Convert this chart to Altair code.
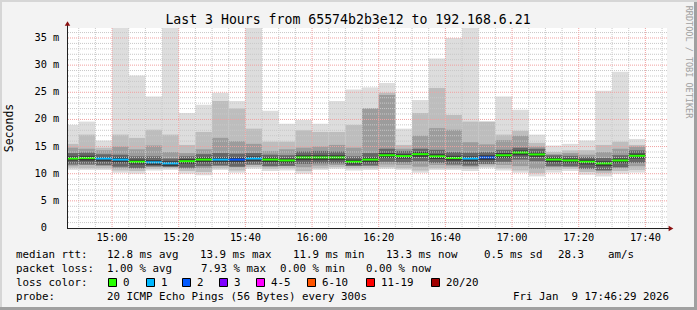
import altair as alt
import pandas as pd

# ---------------- data ----------------
bin_end = ["14:50", "14:55", "15:00", "15:05", "15:10", "15:15", "15:20", "15:25", "15:30",
           "15:35", "15:40", "15:45", "15:50", "15:55", "16:00", "16:05", "16:10", "16:15",
           "16:20", "16:25", "16:30", "16:35", "16:40", "16:45", "16:50", "16:55", "17:00",
           "17:05", "17:10", "17:15", "17:20", "17:25", "17:30", "17:35", "17:40"]
median = [12.8, 12.9, 12.8, 12.6, 12.2, 12.1, 11.9, 12.3, 12.6, 12.6, 12.6, 12.8, 12.6, 12.45,
          13.0, 13.0, 13.0, 12.2, 12.6, 13.4, 13.25, 13.6, 13.2, 12.9, 12.8, 13.0, 13.4, 13.9,
          13.55, 12.6, 12.45, 12.2, 11.9, 12.45, 13.3]
loss = [0, 0, 1, 1, 0, 1, 1, 0, 0, 1, 2, 1, 0, 0, 0, 0, 0, 0, 0, 0, 0, 0, 0, 0, 1, 2, 0, 0,
        0, 0, 0, 0, 0, 0, 0]
smoke_max = [19.0, 19.6, 16.1, 40.0, 28.1, 24.2, 40.0, 21.2, 22.7, 24.9, 23.4, 40.0, 21.6, 19.2,
             19.9, 19.2, 23.4, 25.5, 25.9, 26.7, 18.3, 23.6, 31.2, 35.0, 40.0, 19.6, 24.2, 21.8,
             17.2, 15.2, 15.5, 16.1, 25.3, 28.8, 16.4]
smoke_min = [10.7, 10.7, 10.7, 10.2, 10.0, 10.6, 10.7, 10.0, 9.7, 10.7, 10.2, 10.9, 10.5, 10.6,
             10.0, 10.7, 10.9, 10.6, 10.7, 10.9, 10.7, 10.2, 10.7, 10.7, 10.5, 11.0, 10.6, 10.2,
             9.5, 10.2, 10.5, 9.8, 9.5, 10.0, 10.2]
band2_top = [15.5, 17.2, 14.8, 17.2, 16.6, 18.1, 17.2, 15.3, 17.7, 23.4, 22.0, 18.3, 15.9, 15.9,
             18.0, 17.7, 17.7, 19.0, 22.1, 24.9, 15.3, 21.2, 25.8, 20.8, 19.6, 19.6, 17.2, 17.9,
             15.7, 14.0, 14.3, 14.3, 15.3, 15.9, 15.3]
band2_bot = [11.1, 11.0, 11.0, 10.6, 10.5, 10.9, 11.0, 10.5, 10.3, 11.0, 10.6, 11.2, 10.9, 11.0,
             10.5, 11.0, 11.2, 11.0, 11.0, 11.2, 11.0, 10.6, 11.0, 11.0, 10.9, 11.3, 11.0, 10.6,
             10.1, 10.7, 10.9, 10.3, 10.1, 10.5, 10.7]
band3_top = [14.8, 14.6, 14.3, 15.0, 14.5, 15.2, 14.0, 13.8, 14.5, 16.6, 16.0, 15.5, 14.2, 14.5,
             14.8, 15.0, 15.3, 14.8, 22.0, 24.5, 14.6, 17.0, 18.4, 18.1, 15.8, 15.4, 16.2, 17.0,
             15.0, 13.6, 13.8, 13.5, 14.0, 14.6, 15.0]
band3_bot = [11.5, 11.6, 11.4, 11.0, 11.0, 11.3, 11.2, 10.9, 11.0, 11.5, 11.2, 11.6, 11.3, 11.4,
             11.2, 11.5, 11.6, 11.4, 11.5, 11.7, 11.6, 11.3, 11.6, 11.5, 11.3, 11.7, 11.6, 11.4,
             10.9, 11.2, 11.3, 10.8, 10.6, 11.0, 11.4]
band4_top = [13.8, 13.9, 13.6, 13.5, 13.2, 13.2, 12.8, 13.2, 13.6, 13.8, 13.7, 13.8, 13.5, 13.4,
             14.1, 14.2, 14.1, 13.2, 13.8, 14.6, 14.2, 14.6, 14.4, 14.0, 13.9, 14.0, 14.4, 14.8,
             14.6, 13.4, 13.3, 13.1, 12.9, 13.4, 14.3]
band4_bot = [11.7, 11.7, 11.6, 11.3, 11.0, 11.35, 11.3, 11.1, 11.4, 11.5, 11.3, 11.7, 11.4, 11.45,
             11.8, 11.9, 11.9, 11.45, 11.5, 12.2, 12.1, 12.3, 12.0, 11.7, 11.5, 11.8, 12.2, 12.6,
             12.3, 11.4, 11.35, 10.9, 10.6, 11.2, 12.0]
band5_top = [13.2, 13.3, 13.1, 13.0, 12.6, 12.5, 12.3, 12.7, 13.0, 13.0, 13.0, 13.2, 13.0, 12.8,
             13.4, 13.4, 13.4, 12.6, 13.0, 13.8, 13.6, 14.0, 13.6, 13.3, 13.2, 13.4, 13.8, 14.3,
             13.9, 13.0, 12.8, 12.6, 12.3, 12.8, 13.7]
band5_bot = [12.4, 12.4, 12.3, 12.1, 11.7, 11.6, 11.4, 11.8, 12.1, 12.1, 12.1, 12.3, 12.1, 12.0,
             12.5, 12.5, 12.5, 11.7, 12.1, 12.9, 12.8, 13.1, 12.7, 12.4, 12.3, 12.5, 12.9, 13.4,
             13.1, 12.1, 12.0, 11.7, 11.4, 12.0, 12.8]

loss_labels = ["0", "1", "2", "3", "4-5", "6-10", "11-19", "20/20"]
loss_colors = ["#26ff00", "#00b8ff", "#0059ff", "#7e00ff", "#ff00ff", "#ff5500", "#ff0000", "#a00000"]

y_tick_values = [0, 5, 10, 15, 20, 25, 30, 35]
y_tick_labels = ["0", "5", "10", "15", "20", "25", "30", "35"]
x_tick_labels = ["15:00", "15:20", "15:40", "16:00", "16:20", "16:40", "17:00", "17:20", "17:40"]

title_text = "Last 3 Hours from 65574b2b3e12 to 192.168.6.21"
legend_lines = [
    [("median rtt:", 16), ("12.8 ms avg", 107), ("13.9 ms max", 200), ("11.9 ms min", 293),
     ("13.3 ms now", 386), ("0.5 ms sd", 484), ("28.3", 558), ("am/s", 608)],
    [("packet loss:", 16), ("1.00 % avg", 107), ("7.93 % max", 201), ("0.00 % min", 280),
     ("0.00 % now", 366)],
    [("loss color:", 16)],
    [("probe:", 16), ("20 ICMP Echo Pings (56 Bytes) every 300s", 107),
     ("Fri Jan \u00a09 17:46:29 2026", 513)],
]
loss_box_x = [108, 146, 182, 219, 256, 307, 366, 431]

# ---------------- helpers ----------------
def to_min(s):
    h, m = s.split(":")
    return int(h) * 60 + int(m)

X0 = 14 * 60 + 46 + 29 / 60.0
X1 = X0 + 180
YMAX = 36.84
FONT = "DejaVu Sans Mono"
L, T = 67, 28  # plot origin on the page
LEG_FS = 10.8

ends = [to_min(s) for s in bin_end]
df = pd.DataFrame({
    "end": ends, "start": [e - 5 for e in ends], "med": median,
    "loss": [str(v) for v in loss],
    "lo1": smoke_min, "hi1": smoke_max, "lo2": band2_bot, "hi2": band2_top,
    "lo3": band3_bot, "hi3": band3_top, "lo4": band4_bot, "hi4": band4_top,
    "lo5": band5_bot, "hi5": band5_top,
})

xs = alt.Scale(domain=[X0, X1], nice=False, zero=False)
ys = alt.Scale(domain=[0, YMAX], nice=False, zero=False)

base = alt.Chart(df)
layers = []
band_colors = ["#dddddd", "#bdbdbd", "#9c9c9c", "#666666", "#3a3a3a"]
for i, c in enumerate(band_colors, start=1):
    layers.append(base.mark_rect(color=c, clip=True).encode(
        x=alt.X("start:Q", scale=xs, axis=None), x2="end:Q",
        y=alt.Y(f"lo{i}:Q", scale=ys, axis=None), y2=f"hi{i}:Q"))

layers.append(base.mark_rule(strokeWidth=2, clip=True).encode(
    x=alt.X("start:Q", scale=xs, axis=None), x2="end:Q",
    y=alt.Y("med:Q", scale=ys, axis=None),
    color=alt.Color("loss:N", scale=alt.Scale(domain=["0", "1", "2"], range=loss_colors[:3]),
                    legend=None)))

# grid
minor_x = [v for v in range(890, 1066, 5) if v % 20 != 0]
major_x = [to_min(s) for s in x_tick_labels]
minor_y = [v for v in range(1, 37) if v % 5 != 0]
major_y = [v for v in y_tick_values if v > 0]
layers.append(alt.Chart(pd.DataFrame({"v": minor_x})).mark_rule(
    color="#c8c8c8", strokeDash=[1, 1], strokeWidth=1).encode(x=alt.X("v:Q", scale=xs, axis=None)))
layers.append(alt.Chart(pd.DataFrame({"v": minor_y})).mark_rule(
    color="#c8c8c8", strokeDash=[1, 1], strokeWidth=1).encode(y=alt.Y("v:Q", scale=ys, axis=None)))
layers.append(alt.Chart(pd.DataFrame({"v": major_x})).mark_rule(
    color="#f0a0a0", strokeDash=[1, 1], strokeWidth=1).encode(x=alt.X("v:Q", scale=xs, axis=None)))
layers.append(alt.Chart(pd.DataFrame({"v": major_y})).mark_rule(
    color="#f0a0a0", strokeDash=[1, 1], strokeWidth=1).encode(y=alt.Y("v:Q", scale=ys, axis=None)))

one = pd.DataFrame({"a": [0]})
# axes lines and arrows
layers.append(alt.Chart(one).mark_rule(color="#202020", strokeWidth=1).encode(
    x=alt.value(0.5), y=alt.value(-5), y2=alt.value(200)))
layers.append(alt.Chart(one).mark_rule(color="#202020", strokeWidth=1).encode(
    x=alt.value(0), x2=alt.value(604), y=alt.value(200.5)))
layers.append(alt.Chart(one).mark_point(shape="triangle-up", filled=True, color="#8b1010",
                                        size=30, opacity=1).encode(x=alt.value(0.5), y=alt.value(-4.5)))
layers.append(alt.Chart(one).mark_point(shape="triangle-right", filled=True, color="#8b1010",
                                        size=30, opacity=1).encode(x=alt.value(604), y=alt.value(200.5)))

# y tick labels
ydf = pd.DataFrame({"v": y_tick_values, "lab": y_tick_labels,
                    "unit": ["" if v == 0 else "m" for v in y_tick_values]})
layers.append(alt.Chart(ydf).mark_text(font=FONT, fontSize=10.3, align="right", baseline="middle",
                                       color="#000000").encode(
    y=alt.Y("v:Q", scale=ys, axis=None), x=alt.value(47 - L), text="lab:N"))
layers.append(alt.Chart(ydf).mark_text(font=FONT, fontSize=10.3, align="left", baseline="middle",
                                       color="#000000").encode(
    y=alt.Y("v:Q", scale=ys, axis=None), x=alt.value(53 - L), text="unit:N"))
# x tick labels
xdf = pd.DataFrame({"v": major_x, "lab": x_tick_labels})
layers.append(alt.Chart(xdf).mark_text(font=FONT, fontSize=10.3, align="center",
                                       baseline="alphabetic", color="#000000").encode(
    x=alt.X("v:Q", scale=xs, axis=None), y=alt.value(241 - T), text="lab:N"))

# titles
layers.append(alt.Chart(one).mark_text(text=title_text, font=FONT, fontSize=13.2, align="center",
                                       baseline="alphabetic", color="#000000").encode(
    x=alt.value(348 - L), y=alt.value(24 - T)))
layers.append(alt.Chart(one).mark_text(text="Seconds", font=FONT, fontSize=11.5, angle=270,
                                       align="center", baseline="middle", color="#000000").encode(
    x=alt.value(10 - L), y=alt.value(128 - T)))
layers.append(alt.Chart(one).mark_text(text="RRDTOOL / TOBI OETIKER", font=FONT, fontSize=8.5,
                                       angle=90, align="center", baseline="middle",
                                       color="#a0a0a0").encode(
    x=alt.value(689 - L), y=alt.value(62 - T)))

# legend
baselines = [258, 272, 286, 299.5]
for line, by in zip(legend_lines, baselines):
    for txt, px in line:
        layers.append(alt.Chart(one).mark_text(text=txt, font=FONT, fontSize=LEG_FS, align="left",
                                               baseline="alphabetic", color="#000000").encode(
            x=alt.value(px - L), y=alt.value(by - T)))
for lab, col, bx in zip(loss_labels, loss_colors, loss_box_x):
    layers.append(alt.Chart(one).mark_rect(color=col, stroke="#000000", strokeWidth=1).encode(
        x=alt.value(bx - L + 0.5), x2=alt.value(bx - L + 8.5),
        y=alt.value(278 - T + 0.5), y2=alt.value(286 - T + 0.5)))
    layers.append(alt.Chart(one).mark_text(text=lab, font=FONT, fontSize=LEG_FS, align="left",
                                           baseline="alphabetic", color="#000000").encode(
        x=alt.value(bx + 15 - L), y=alt.value(286 - T)))

# frame
layers.append(alt.Chart(one).mark_rect(color="#a0a0a0").encode(
    x=alt.value(-L), x2=alt.value(697 - L), y=alt.value(307 - T), y2=alt.value(310 - T)))
layers.append(alt.Chart(one).mark_rect(color="#a0a0a0").encode(
    x=alt.value(694 - L), x2=alt.value(697 - L), y=alt.value(-T), y2=alt.value(310 - T)))
layers.append(alt.Chart(one).mark_rect(color="#d6d6d6").encode(
    x=alt.value(-L), x2=alt.value(697 - L), y=alt.value(-T), y2=alt.value(2 - T)))
layers.append(alt.Chart(one).mark_rect(color="#d6d6d6").encode(
    x=alt.value(-L), x2=alt.value(2 - L), y=alt.value(-T), y2=alt.value(307 - T)))

chart = alt.layer(*layers).properties(
    width=600, height=200, autosize="none",
    padding={"left": L, "top": T, "right": 697 - L - 600, "bottom": 310 - T - 200},
    background="#f3f3f3",
).configure_view(stroke=None, fill="#ffffff")

chart.save("out.html", embed_options={"renderer": "svg", "actions": False})
